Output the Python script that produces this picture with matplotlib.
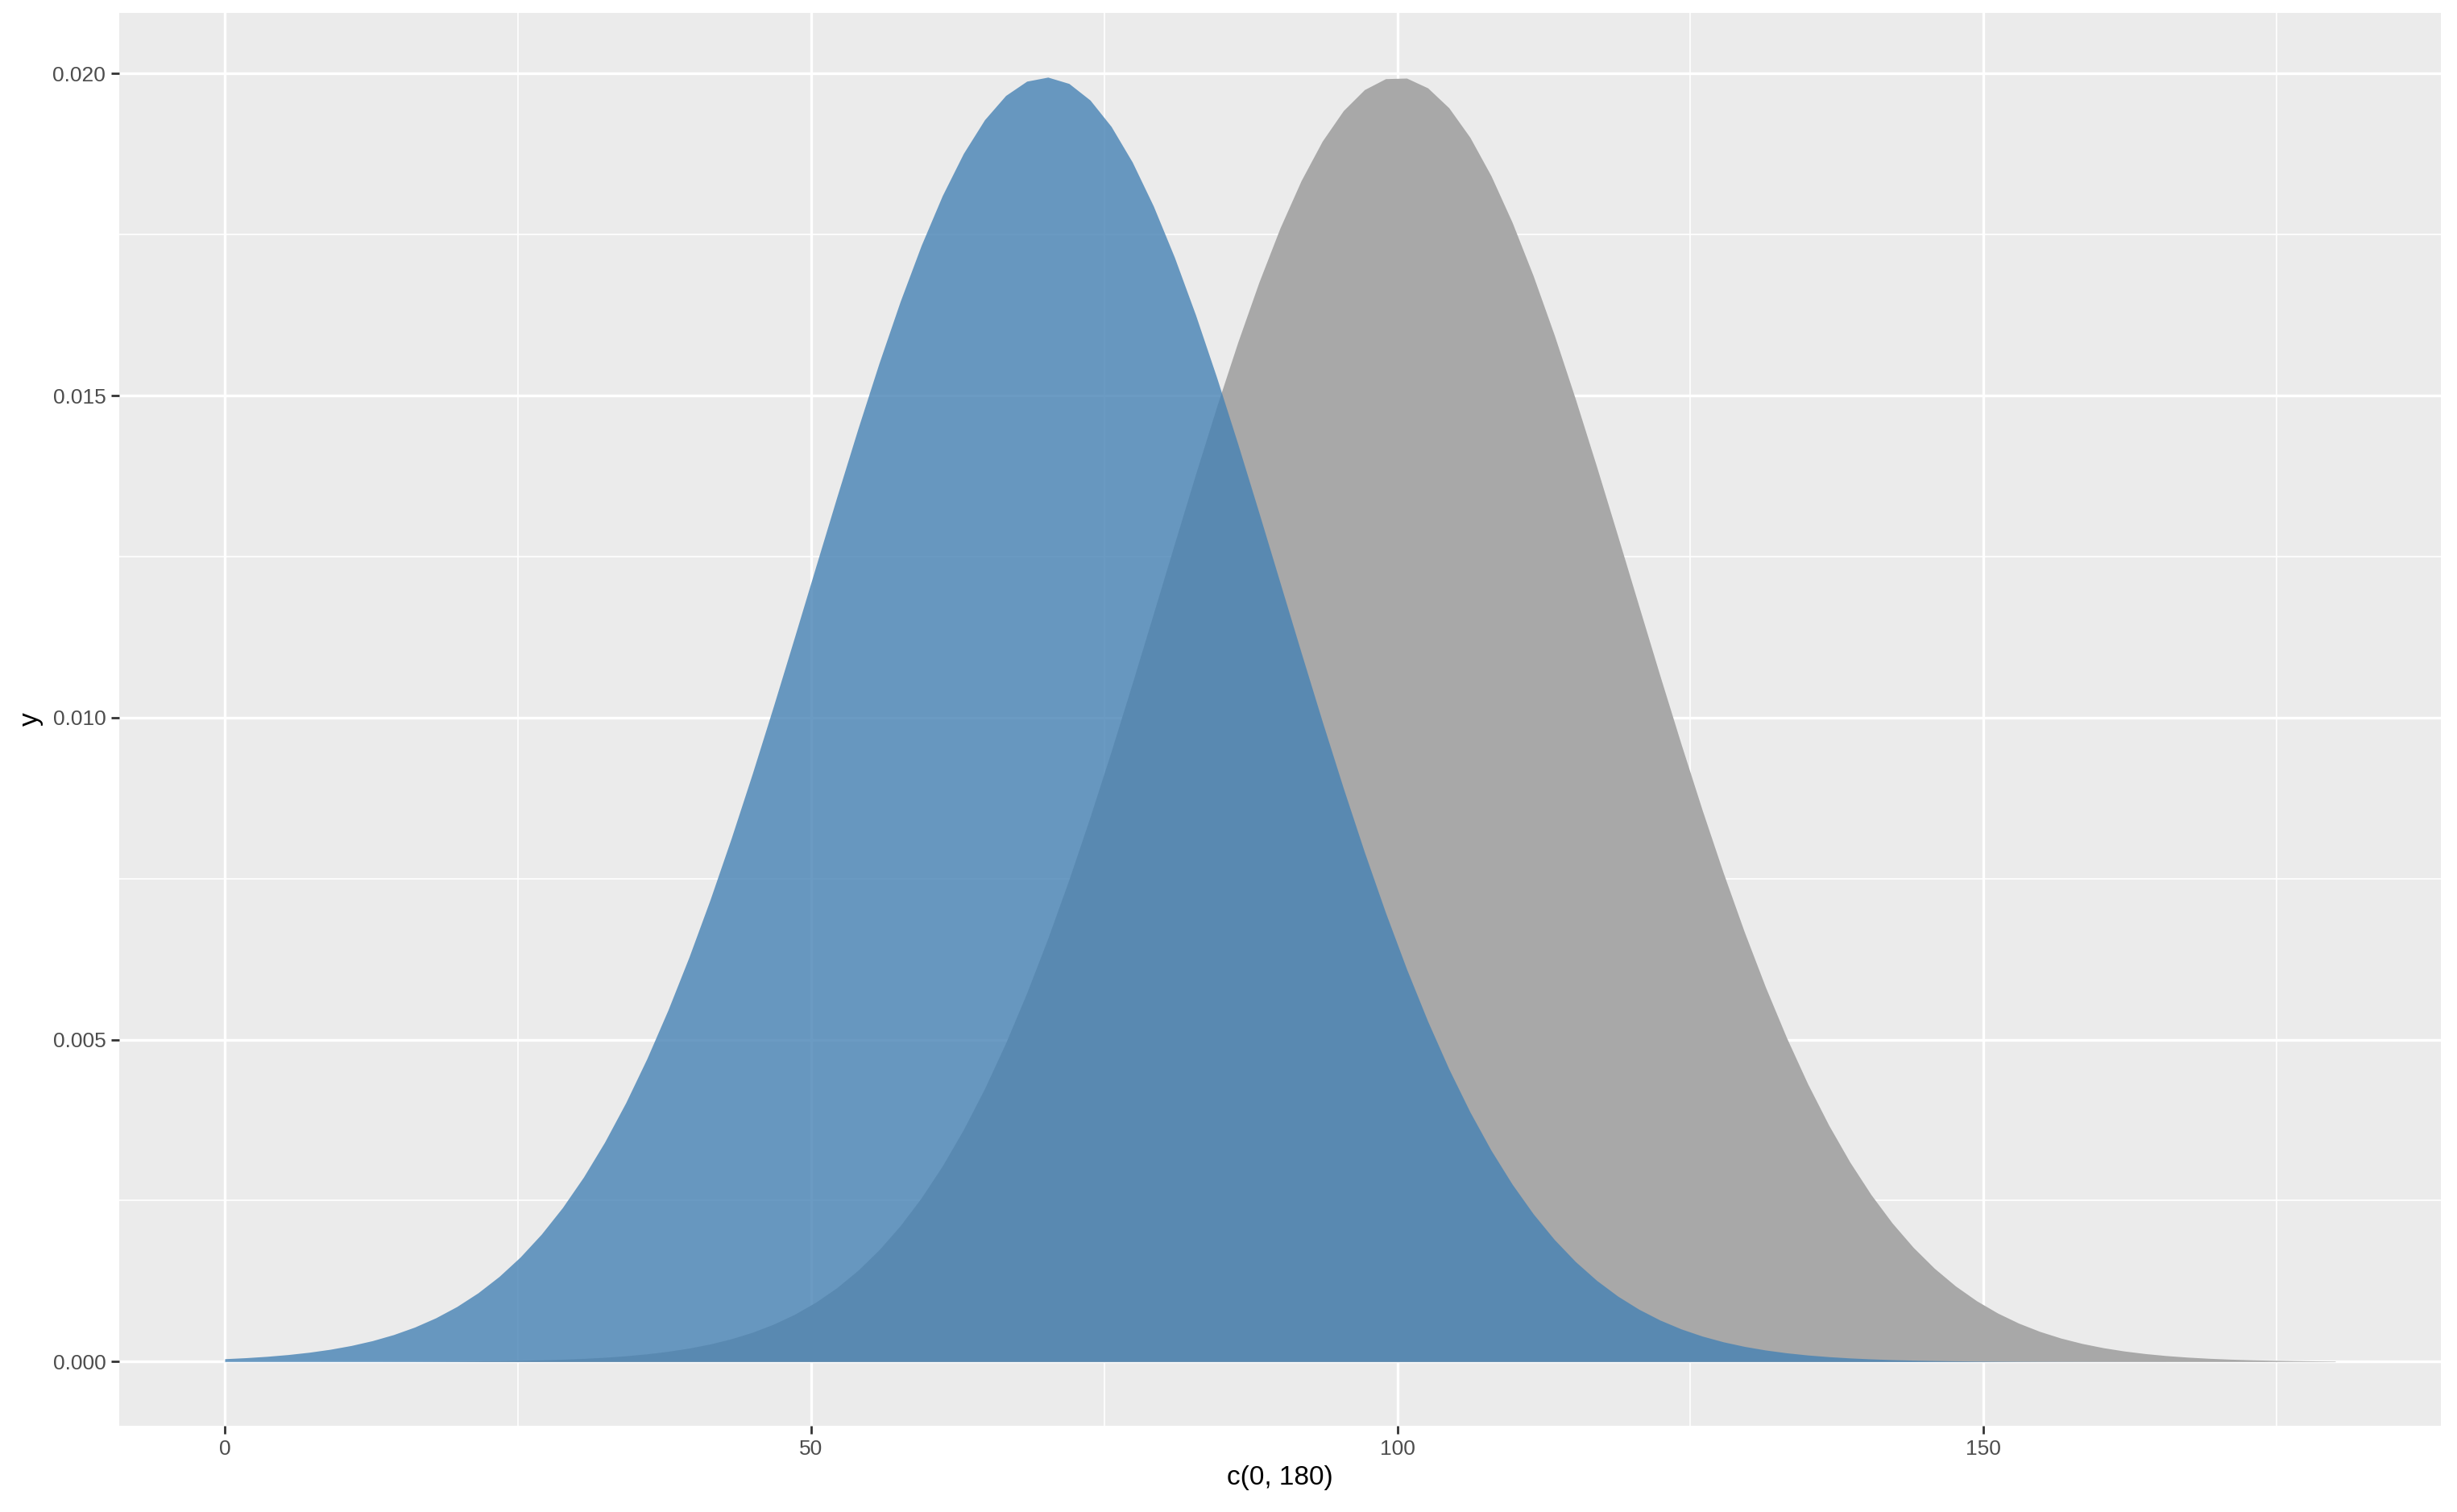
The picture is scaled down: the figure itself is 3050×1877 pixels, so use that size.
import numpy as np
import matplotlib
matplotlib.use("Agg")
from matplotlib import pyplot as plt
from matplotlib.ticker import MultipleLocator, FixedLocator

# two normal densities drawn with stat_function style (n = 101 points over c(0, 180))
x_range = [0, 180]
n_points = 101
means = [100, 70]          # grey drawn first, blue on top
sds = [20, 20]
fills = ["#A8A8A8", "steelblue"]
alphas = [1.0, 0.8]

xticks = [0, 50, 100, 150]
yticks = [0.000, 0.005, 0.010, 0.015, 0.020]
ytick_labels = ["0.000", "0.005", "0.010", "0.015", "0.020"]

plt.rcParams["font.family"] = ["Liberation Sans", "DejaVu Sans"]

fig = plt.figure(figsize=(15.25, 9.385), dpi=200)
ax = fig.add_axes([148/3050, 107/1877, (3030-148)/3050, (1770-16)/1877])
ax.set_facecolor("#EBEBEB")

xs = np.linspace(x_range[0], x_range[1], n_points)
for m, s, c, a in zip(means, sds, fills, alphas):
    ys = np.exp(-0.5*((xs-m)/s)**2)/(s*np.sqrt(2*np.pi))
    ax.fill_between(xs, 0, ys, color=c, alpha=a, linewidth=0, zorder=3)

ax.set_xlim(-9, 189)
ymax = 1/(20*np.sqrt(2*np.pi))
ax.set_ylim(-0.05*ymax, 1.05*ymax)

ax.set_xticks(xticks)
ax.set_xticklabels([str(t) for t in xticks])
ax.set_yticks(yticks)
ax.set_yticklabels(ytick_labels)
ax.xaxis.set_minor_locator(FixedLocator([25, 75, 125, 175]))
ax.yaxis.set_minor_locator(FixedLocator([0.0025, 0.0075, 0.0125, 0.0175]))

ax.grid(which="major", color="white", linewidth=1.2, zorder=1)
ax.grid(which="minor", color="white", linewidth=0.6, zorder=1)
ax.set_axisbelow(True)
for sp in ax.spines.values():
    sp.set_visible(False)

ax.tick_params(which="major", length=3.5, width=1.0, color="#333333",
               labelsize=9.5, labelcolor="#4D4D4D", pad=2.5)
ax.tick_params(which="minor", length=0)

ax.set_xlabel("c(0, 180)", fontsize=12, color="black", labelpad=3)
ax.set_ylabel("y", fontsize=12, color="black", labelpad=4)

fig.savefig("out.png", dpi=200, facecolor="white")
